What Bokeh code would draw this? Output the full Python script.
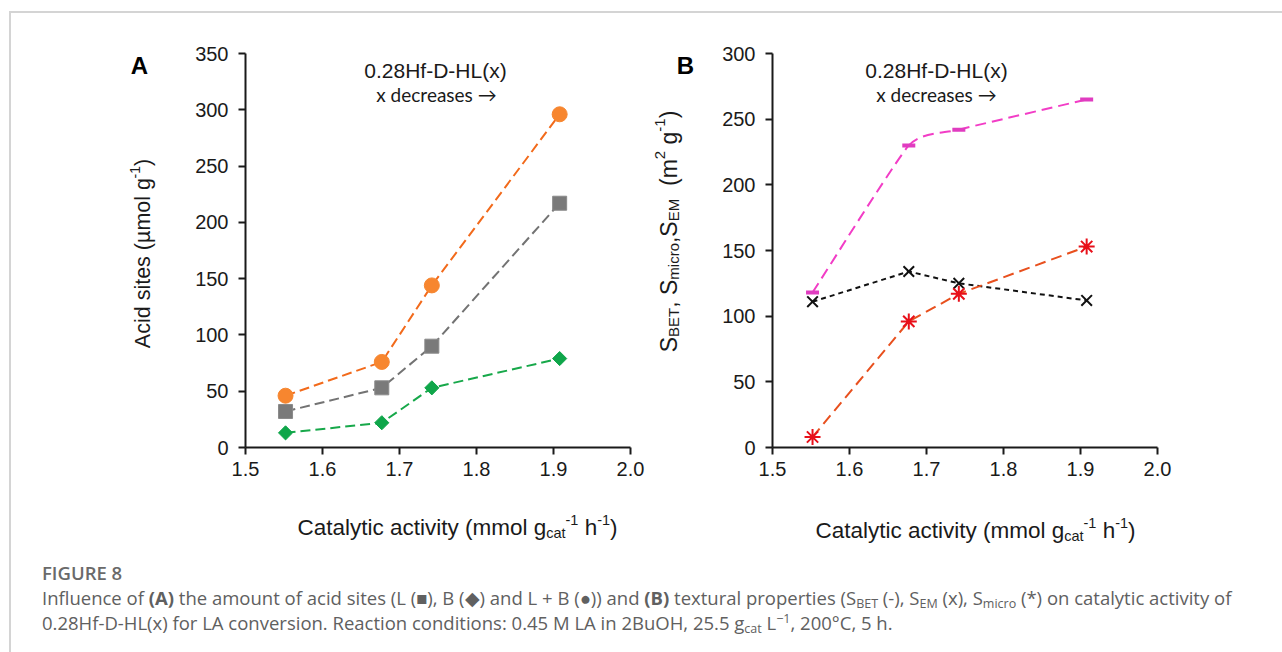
import math
from bokeh.plotting import figure
from bokeh.models import Label, FixedTicker, PrintfTickFormatter, ColumnDataSource, Div, Range1d
from bokeh.layouts import row, column
from bokeh.embed import file_html
from bokeh.resources import INLINE

# ---------------- data ----------------
activity = [1.552, 1.677, 1.742, 1.908]          # catalytic activity, mmol gcat-1 h-1
acid_L = [32, 53, 90, 217]                       # Lewis acid sites (squares)
acid_B = [13, 22, 53, 79]                        # Bronsted acid sites (diamonds)
acid_LB = [46, 76, 144, 296]                     # L + B (circles)
s_bet = [118, 230, 242, 265]                     # S_BET (-)
s_em = [111, 134, 125, 112]                      # S_EM (x)
s_micro = [8, 96, 117, 153]                      # S_micro (*)
x_ticks = [1.5, 1.6, 1.7, 1.8, 1.9, 2.0]
yA_ticks = [0, 50, 100, 150, 200, 250, 300, 350]
yB_ticks = [0, 50, 100, 150, 200, 250, 300]

FONT = "Liberation Sans"
TXT = "#1a1a1a"

# Arial / Liberation Sans advance widths (per 1000 em)
AW = {' ': 278, '(': 333, ')': 333, ',': 278, '-': 333, '.': 278,
      'A': 667, 'B': 667, 'C': 722, 'E': 667, 'M': 833, 'S': 667, 'T': 611,
      'a': 556, 'c': 500, 'd': 556, 'e': 556, 'g': 556, 'h': 556, 'i': 222,
      'l': 222, 'm': 833, 'o': 556, 'r': 333, 's': 500, 't': 278, 'v': 500,
      'y': 500, 'µ': 556}
for d in "0123456789":
    AW[d] = 556


def tw(s, size):
    return sum(AW.get(ch, 556) for ch in s) * size / 1000.0


class Geom:
    def __init__(self, fl, ft, fw, fh, xr, yr):
        self.fl, self.ft, self.fw, self.fh, self.xr, self.yr = fl, ft, fw, fh, xr, yr

    def data(self, X, Y):
        x = self.xr[0] + (X - self.fl) / self.fw * (self.xr[1] - self.xr[0])
        y = self.yr[0] + (self.ft + self.fh - Y) / self.fh * (self.yr[1] - self.yr[0])
        return x, y


def add_text(p, g, X, Y, text, size, font=FONT, align="left", style="normal",
             angle=0.0, color=TXT):
    x, y = g.data(X, Y)
    p.add_layout(Label(x=x, y=y, text=text, text_font=font,
                       text_font_size=f"{size}px", text_font_style=style,
                       text_align=align, text_baseline="alphabetic",
                       angle=angle, angle_units="rad", text_color=color))


def rich(p, g, X, Y, pieces, angle=0.0):
    """Texts with sub/superscripts, laid out piece by piece (centred on X, Y)."""
    total = sum(tw(t, s) for t, s, _ in pieces)
    adv = -total / 2
    for t, s, shift in pieces:
        lead = len(t) - len(t.lstrip(" "))
        a = adv + tw(" " * lead, s)
        body = t.lstrip(" ")
        if angle == 0.0:
            add_text(p, g, X + a, Y - shift, body, s)
        else:
            add_text(p, g, X - shift, Y - a, body, s, angle=angle)
        adv += tw(t, s)


def blank(W, H, top=0, bottom=0):
    """A plain drawing area (no axes) used for the texts around the plots.
    Its frame spans rows top..H-bottom, so that it lines up with the plots."""
    f = figure(width=W, height=H, x_range=Range1d(0, W),
               y_range=Range1d(H - bottom, top),
               min_border_left=0, min_border_right=0,
               min_border_top=top, min_border_bottom=bottom,
               x_axis_location=None, y_axis_location=None,
               output_backend="svg", toolbar_location=None)
    f.grid.visible = False
    f.outline_line_color = None
    f.border_fill_color = None
    f.background_fill_color = None
    return f, Geom(0, top, W, H - top - bottom, (0, W), (H - bottom, top))


def style(p, yticks):
    p.grid.visible = False
    p.outline_line_color = None
    p.border_fill_color = None
    p.background_fill_color = None
    p.xaxis.ticker = FixedTicker(ticks=x_ticks)
    p.xaxis.formatter = PrintfTickFormatter(format="%.1f")
    p.yaxis.ticker = FixedTicker(ticks=yticks)
    for ax in p.axis:
        ax.axis_line_width = 2
        ax.axis_line_color = TXT
        ax.major_tick_line_width = 2
        ax.major_tick_line_color = TXT
        ax.major_tick_out = 7
        ax.major_tick_in = 0
        ax.minor_tick_out = 0
        ax.minor_tick_in = 0
        ax.major_label_text_font = FONT
        ax.major_label_text_font_size = "20px"
        ax.major_label_text_color = TXT
    p.yaxis.major_label_standoff = 10
    p.xaxis.major_label_standoff = 7


XLABEL = [("Catalytic activity (mmol g", 22.5, 0), ("cat", 14.5, -5),
          ("-1", 14.5, 8), (" h", 22.5, 0), ("-1", 14.5, 8), (")", 22.5, 0)]
TOP_H = 490
F_TOP, F_H = 53, 394
F_BOT = TOP_H - F_TOP - F_H

# ---------------- panel A ----------------
pA = figure(frame_width=385, frame_height=F_H, x_range=(1.5, 2.0), y_range=(0, 350),
            min_border_left=70, min_border_right=20, min_border_top=F_TOP,
            min_border_bottom=F_BOT, output_backend="svg", toolbar_location=None)
style(pA, yA_ticks)
gA = Geom(70, F_TOP, 385, F_H, (1.5, 2.0), (0, 350))

pA.line(activity, acid_LB, line_color="#F26A1B", line_width=2, line_dash="10 5")
pA.line(activity, acid_L, line_color="#737373", line_width=2, line_dash="10 5")
pA.line(activity, acid_B, line_color="#17A84A", line_width=2, line_dash="10 5")
pA.scatter(activity, acid_LB, marker="circle", size=15, fill_color="#F7862F",
           line_color="#F7862F")
pA.scatter(activity, acid_L, marker="square", size=14, fill_color="#7A7A7A",
           line_color="#8A8A8A")
pA.scatter(activity, acid_B, marker="square", size=10, angle=math.pi / 4,
           fill_color="#0FA64A", line_color="#0FA64A")

add_text(pA, gA, 435 - 175, 70, "0.28Hf-D-HL(x)", 21, align="center")
add_text(pA, gA, 436 - 175, 94, "x decreases \u2192", 19, font="Lato", align="center")

# left strip of panel A: panel letter and y-axis title
lA, glA = blank(175, TOP_H, F_TOP, F_BOT)
add_text(lA, glA, 139, 65, "A", 24, align="center", style="bold", color="#000000")
rich(lA, glA, 142, 253, [("Acid sites (\u00b5mol g", 21.5, 0), ("-1", 14, 8),
                         (")", 21.5, 0)], angle=math.pi / 2)

# ---------------- panel B ----------------
pB = figure(frame_width=385, frame_height=F_H, x_range=(1.5, 2.0), y_range=(0, 300),
            min_border_left=62, min_border_right=125, min_border_top=F_TOP,
            min_border_bottom=F_BOT, output_backend="svg", toolbar_location=None)
style(pB, yB_ticks)
gB = Geom(62, F_TOP, 385, F_H, (1.5, 2.0), (0, 300))

# smoothed (Bezier) line for S_BET, control points from neighbouring data points
k = 1.0 / 12.0
n = len(activity)
bx0, by0, bx1, by1, cx0, cy0, cx1, cy1 = [], [], [], [], [], [], [], []
for i in range(n - 1):
    xa, ya = activity[i], s_bet[i]
    xb, yb = activity[i + 1], s_bet[i + 1]
    xp, yp = (activity[i - 1], s_bet[i - 1]) if i > 0 else (xa, ya)
    xn, yn = (activity[i + 2], s_bet[i + 2]) if i + 2 < n else (xb, yb)
    bx0.append(xa); by0.append(ya); bx1.append(xb); by1.append(yb)
    cx0.append(xa + (xb - xp) * k); cy0.append(ya + (yb - yp) * k)
    cx1.append(xb - (xn - xa) * k); cy1.append(yb - (yn - ya) * k)
bez = ColumnDataSource(dict(x0=bx0, y0=by0, x1=bx1, y1=by1,
                            cx0=cx0, cy0=cy0, cx1=cx1, cy1=cy1))
pB.bezier(x0="x0", y0="y0", x1="x1", y1="y1", cx0="cx0", cy0="cy0",
          cx1="cx1", cy1="cy1", source=bez, line_color="#F23DC6", line_width=2,
          line_dash="11 6")
pB.line(activity, s_em, line_color="#111111", line_width=2, line_dash="5 4")
pB.line(activity, s_micro, line_color="#E8501E", line_width=2, line_dash="11 6")
pB.scatter(activity, s_bet, marker="dash", size=13, line_width=4, line_color="#E03CC0")
pB.scatter(activity, s_em, marker="x", size=15, line_width=2, line_color="#111111")
pB.scatter(activity, s_micro, marker="asterisk", size=16, line_width=2,
           line_color="#E8101A")

add_text(pB, gB, 936 - 710, 70, "0.28Hf-D-HL(x)", 21, align="center")
add_text(pB, gB, 936 - 710, 94, "x decreases \u2192", 19, font="Lato", align="center")

# left strip of panel B
lB, glB = blank(60, TOP_H, F_TOP, F_BOT)
add_text(lB, glB, 35, 65, "B", 24, align="center", style="bold", color="#000000")
rich(lB, glB, 18, 231, [("S", 23, 0), ("BET", 15, -5), (", S", 23, 0),
                        ("micro", 15, -5), (",S", 23, 0), ("EM", 15, -5),
                        ("  (m", 23, 0), ("2", 15, 9), (" g", 23, 0), ("-1", 15, 9),
                        (")", 23, 0)], angle=math.pi / 2)

# band below both plots: x-axis titles
band, gband = blank(1282, 55)
rich(band, gband, 457, 527 - TOP_H, XLABEL)
rich(band, gband, 975, 530 - TOP_H, XLABEL)

# ---------------- caption ----------------
SUB = "font-size:12.5px; line-height:0; vertical-align:-3px;"
SUP = "font-size:12.5px; line-height:0; vertical-align:7px;"
cap_html = f"""
<div style="padding:15px 0 0 42px; font-family:'Open Sans'; color:#606060;
            white-space:nowrap; font-size:18.5px;">
<div style="line-height:25px; font-weight:600; color:#6a6a6a; font-size:18.5px;">FIGURE 8</div>
<div style="line-height:25px;">Influence of <b>(A)</b> the amount of acid sites (L (&#9632;), B (&#9670;) and L + B (&#9679;)) and <b>(B)</b> textural properties (S<span style="{SUB}">BET</span> (-), S<span style="{SUB}">EM</span> (x), S<span style="{SUB}">micro</span> (*) on catalytic activity of</div>
<div style="line-height:25px;">0.28Hf-D-HL(x) for LA conversion. Reaction conditions: 0.45 M LA in 2BuOH, 25.5 g<span style="{SUB}">cat</span> L<span style="{SUP}">&minus;1</span>, 200&deg;C, 5 h.</div>
</div>
"""
cap = Div(text=cap_html, width=1282, height=107, margin=(0, 0, 0, 0))

bg = ("linear-gradient(#d4d4d4,#d4d4d4) 9px 12px / 2px 100% no-repeat, "
      "linear-gradient(#d4d4d4,#d4d4d4) 9px 11px / 100% 2px no-repeat, #ffffff")
top = row(lA, pA, lB, pB, spacing=0)
layout = column(top, band, cap, spacing=0, styles={"background": bg})

open("out.html", "w").write(file_html(layout, INLINE))
